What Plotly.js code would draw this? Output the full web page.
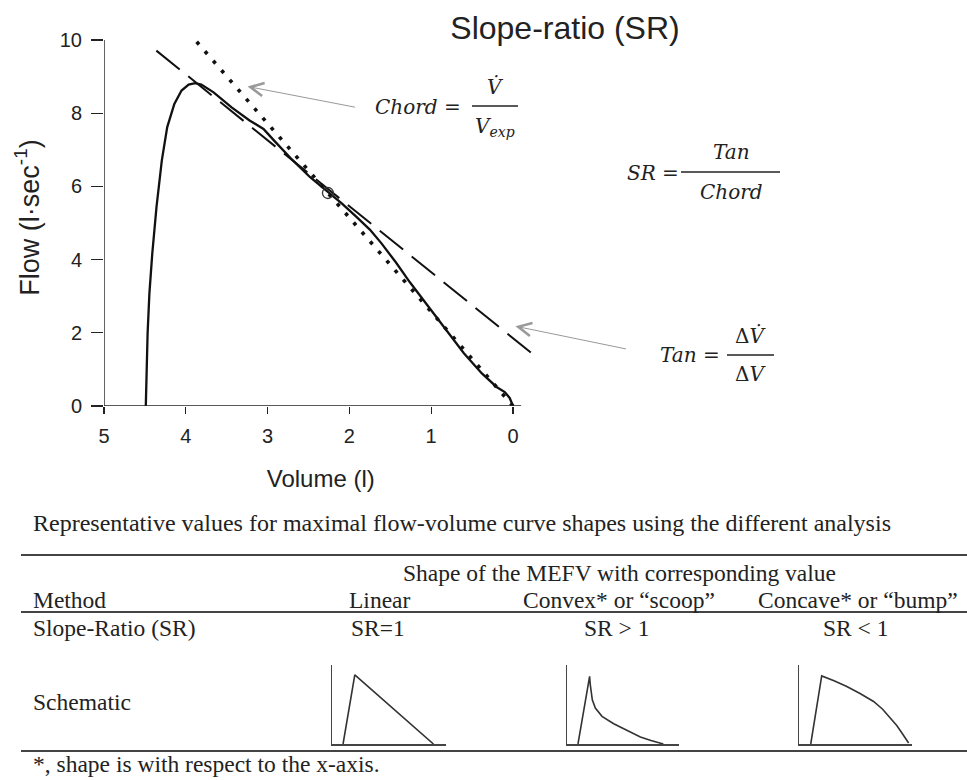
<!DOCTYPE html>
<html><head><meta charset="utf-8">
<script src="https://cdn.plot.ly/plotly-3.0.1.min.js"></script>
<style>html,body{margin:0;padding:0;background:#fff}</style>
</head><body><div id="chart" style="width:967px;height:780px"></div>
<script>
// ---- Data ----
const curveVolume = [4.489,4.48,4.467,4.445,4.41,4.358,4.293,4.227,4.14,4.052,3.965,3.886,3.81,3.66,3.44,3.22,3.05,2.92,2.70,2.48,2.26,2.09,1.91,1.75,1.61,1.43,1.26,1.04,0.82,0.60,0.38,0.20,0.10,0.04,0];
const curveFlow   = [0,1.07,1.98,3.07,4.16,5.44,6.71,7.62,8.25,8.62,8.78,8.82,8.78,8.57,8.16,7.80,7.57,7.25,6.73,6.25,5.85,5.53,5.16,4.82,4.45,3.92,3.38,2.74,2.08,1.44,0.89,0.52,0.38,0.22,0];
const chordVolume = [0, 3.886];
const chordFlow   = [0, 10];
const tangentVolume = [4.36, -0.23];
const tangentFlow   = [9.71, 1.44];
const pointVolume = [2.262];
const pointFlow   = [5.82];
const xTickVals = [5,4,3,2,1,0];
const yTickVals = [0,2,4,6,8,10];
const chordArrowHead = [3.245, 8.73];
const tangentArrowHead = [-0.03, 2.18];

// schematic curves (normalised axes 0..1)
const linearX = [0.097,0.20,0.89];
const linearY = [0,0.874,0];
const scoopX = [0.098,0.202,0.207,0.214,0.226,0.253,0.3125,0.417,0.536,0.655,0.75,0.86];
const scoopY = [0,0.857,0.76,0.66,0.56,0.456,0.35,0.257,0.173,0.089,0.045,0];
const bumpX = [0.104,0.201,0.31,0.423,0.54,0.66,0.74,0.808,0.865,0.911,0.97];
const bumpY = [0,0.861,0.80,0.727,0.64,0.538,0.44,0.328,0.235,0.139,0.013];

// texts
const chartTitle = "Slope-ratio (SR)";
const xTitle = "Volume (l)";
const yTitle = "Flow (l·sec<sup>-1</sup>)";
const tableCaption = "Representative values for maximal flow-volume curve shapes using the different analysis";
const headerSpan = "Shape of the MEFV with corresponding value";
const columnHeads = ["Method","Linear","Convex* or \u201cscoop\u201d","Concave* or \u201cbump\u201d"];
const srRow = ["Slope-Ratio (SR)","SR=1","SR > 1","SR < 1"];
const schematicLabel = "Schematic";
const footnote = "*, shape is with respect to the x-axis.";

// ---- Layout helpers (page pixels -> paper) ----
const W = 967, H = 780;
const fx = p => p / W;
const fy = p => 1 - p / H;
const SANS = "Liberation Sans, Arial, sans-serif";
const SERIF = "Liberation Serif, Times New Roman, serif";
const MATH = "DejaVu Serif, serif";
const TXT = "#222";

function ann(text, px, py, xanchor, font) {
  return {text, xref:'paper', yref:'paper', x: fx(px), y: fy(py), xanchor: xanchor || 'center',
          yanchor:'middle', showarrow:false, font: font};
}
const tFont = {family: SERIF, size: 23.5, color: TXT};
const capFont = {family: SERIF, size: 24, color: TXT};
const mFont = {family: MATH, size: 20, color: TXT};

const traces = [
  {x: chordVolume, y: chordFlow, mode:'lines', line:{color:'#111', width:3.6, dash:'3.6px,9px'}, hoverinfo:'skip'},
  {x: tangentVolume, y: tangentFlow, mode:'lines', line:{color:'#111', width:2, dash:'30px,11px'}, hoverinfo:'skip'},
  {x: curveVolume, y: curveFlow, mode:'lines', line:{color:'#111', width:2.3}},
  {x: pointVolume, y: pointFlow, mode:'markers', marker:{symbol:'circle-open', size:11, color:'#333', line:{width:1.3}}},
  {x: linearX, y: linearY, xaxis:'x2', yaxis:'y2', mode:'lines', line:{color:'#333', width:1.6}},
  {x: scoopX, y: scoopY, xaxis:'x3', yaxis:'y3', mode:'lines', line:{color:'#333', width:1.6}},
  {x: bumpX, y: bumpY, xaxis:'x4', yaxis:'y4', mode:'lines', line:{color:'#333', width:1.6}}
];

const schemAxis = (x0, x1) => ({domain:[fx(x0), fx(x1)], range:[0,1], showline:true, linecolor:'#444', linewidth:1.5,
  showgrid:false, zeroline:false, showticklabels:false, ticks:'', fixedrange:true});
const schemY = (i) => ({domain:[fy(744), fy(665)], range:[0,1], showline:true, linecolor:'#444', linewidth:1.5,
  showgrid:false, zeroline:false, showticklabels:false, ticks:'', anchor:'x'+i, fixedrange:true});

const annotations = [
  // Chord formula
  ann('<i>Chord</i> =', 463, 107, 'right', mFont),
  ann('<i>V\u0307</i>', 495, 87, 'center', mFont),
  ann('<i>V</i><sub><i>exp</i></sub>', 495, 127, 'center', mFont),
  // SR formula
  ann('<i>SR</i> =', 681, 173, 'right', mFont),
  ann('<i>Tan</i>', 731, 152, 'center', mFont),
  ann('<i>Chord</i>', 731, 192, 'center', mFont),
  // Tan formula
  ann('<i>Tan</i> =', 722, 355, 'right', mFont),
  ann('\u0394<i>V\u0307</i>', 750, 336, 'center', mFont),
  ann('\u0394<i>V</i>', 750, 374, 'center', mFont),
  // arrows
  {xref:'x', yref:'y', x: chordArrowHead[0], y: chordArrowHead[1], ax:109, ay:21, axref:'pixel', ayref:'pixel',
   text:'', showarrow:true, arrowhead:5, arrowsize:2.6, arrowwidth:1, arrowcolor:'#999'},
  {xref:'x', yref:'y', x: tangentArrowHead[0], y: tangentArrowHead[1], ax:112, ay:23, axref:'pixel', ayref:'pixel',
   text:'', showarrow:true, arrowhead:5, arrowsize:2.6, arrowwidth:1, arrowcolor:'#999'},
  // table
  ann(tableCaption, 31, 523, 'left', capFont),
  ann(headerSpan, 619, 573, 'center', tFont),
  ann(columnHeads[0], 31, 600, 'left', tFont),
  ann(columnHeads[1], 379, 600, 'center', tFont),
  ann(columnHeads[2], 619, 600, 'center', tFont),
  ann(columnHeads[3], 858, 600, 'center', tFont),
  ann(srRow[0], 31, 628, 'left', tFont),
  ann(srRow[1], 378, 628, 'center', tFont),
  ann(srRow[2], 617, 628, 'center', tFont),
  ann(srRow[3], 856, 628, 'center', tFont),
  ann(schematicLabel, 31, 702, 'left', tFont),
  ann(footnote, 31, 764, 'left', tFont)
];

const shapes = [
  // main axis lines
  {type:'line', xref:'x', yref:'y', x0:5, x1:5, y0:0, y1:10, line:{color:'#222', width:1.4}},
  {type:'line', xref:'x', yref:'y', x0:5, x1:-0.1, y0:0, y1:0, line:{color:'#222', width:1.4}},
  // fraction bars
  {type:'line', xref:'paper', yref:'paper', x0:fx(472), x1:fx(518), y0:fy(106), y1:fy(106), line:{color:TXT, width:1.3}},
  {type:'line', xref:'paper', yref:'paper', x0:fx(681), x1:fx(780), y0:fy(172), y1:fy(172), line:{color:TXT, width:1.3}},
  {type:'line', xref:'paper', yref:'paper', x0:fx(727), x1:fx(774), y0:fy(355), y1:fy(355), line:{color:TXT, width:1.3}},
  // table rules
  {type:'line', xref:'paper', yref:'paper', x0:fx(21), x1:1, y0:fy(555), y1:fy(555), line:{color:'#444', width:2.2}},
  {type:'line', xref:'paper', yref:'paper', x0:fx(21), x1:1, y0:fy(612), y1:fy(612), line:{color:'#444', width:1.8}},
  {type:'line', xref:'paper', yref:'paper', x0:fx(21), x1:1, y0:fy(751), y1:fy(751), line:{color:'#444', width:1.8}}
];

const layout = {
  width: W, height: H,
  margin: {l:0, r:0, t:0, b:0},
  paper_bgcolor:'#fff', plot_bgcolor:'#fff',
  showlegend:false,
  title: {text: chartTitle, x: fx(565), xanchor:'center', y: fy(28), yanchor:'middle', xref:'paper', yref:'paper',
          font:{family:SANS, size:32, color:TXT}},
  xaxis: {domain:[fx(104), fx(537.5)], range:[5,-0.3], tickvals:xTickVals, ticktext:xTickVals.map(String),
          ticks:'outside', ticklen:7, tickwidth:1.2, tickcolor:'#222', showline:false, showgrid:false, zeroline:false,
          tickfont:{family:SANS, size:20, color:TXT}, ticklabelstandoff:5,
          title:{text:xTitle, font:{family:SANS, size:24, color:TXT}, standoff:24}, anchor:'y'},
  yaxis: {domain:[fy(406), fy(29)], range:[0,10.3], tickvals:yTickVals, ticktext:yTickVals.map(String),
          ticks:'outside', ticklen:12, tickwidth:1.2, tickcolor:'#222', showline:false, showgrid:false, zeroline:false,
          tickfont:{family:SANS, size:20, color:TXT}, ticklabelstandoff:5,
          title:{text:yTitle, font:{family:SANS, size:27, color:TXT}, standoff:12}, anchor:'x'},
  xaxis2: Object.assign(schemAxis(332,446), {anchor:'y2'}),
  yaxis2: schemY(2),
  xaxis3: Object.assign(schemAxis(567,679), {anchor:'y3'}),
  yaxis3: schemY(3),
  xaxis4: Object.assign(schemAxis(799,912), {anchor:'y4'}),
  yaxis4: schemY(4),
  annotations, shapes
};

Plotly.newPlot('chart', traces, layout, {displayModeBar:false, staticPlot:true});
</script>
</body></html>
